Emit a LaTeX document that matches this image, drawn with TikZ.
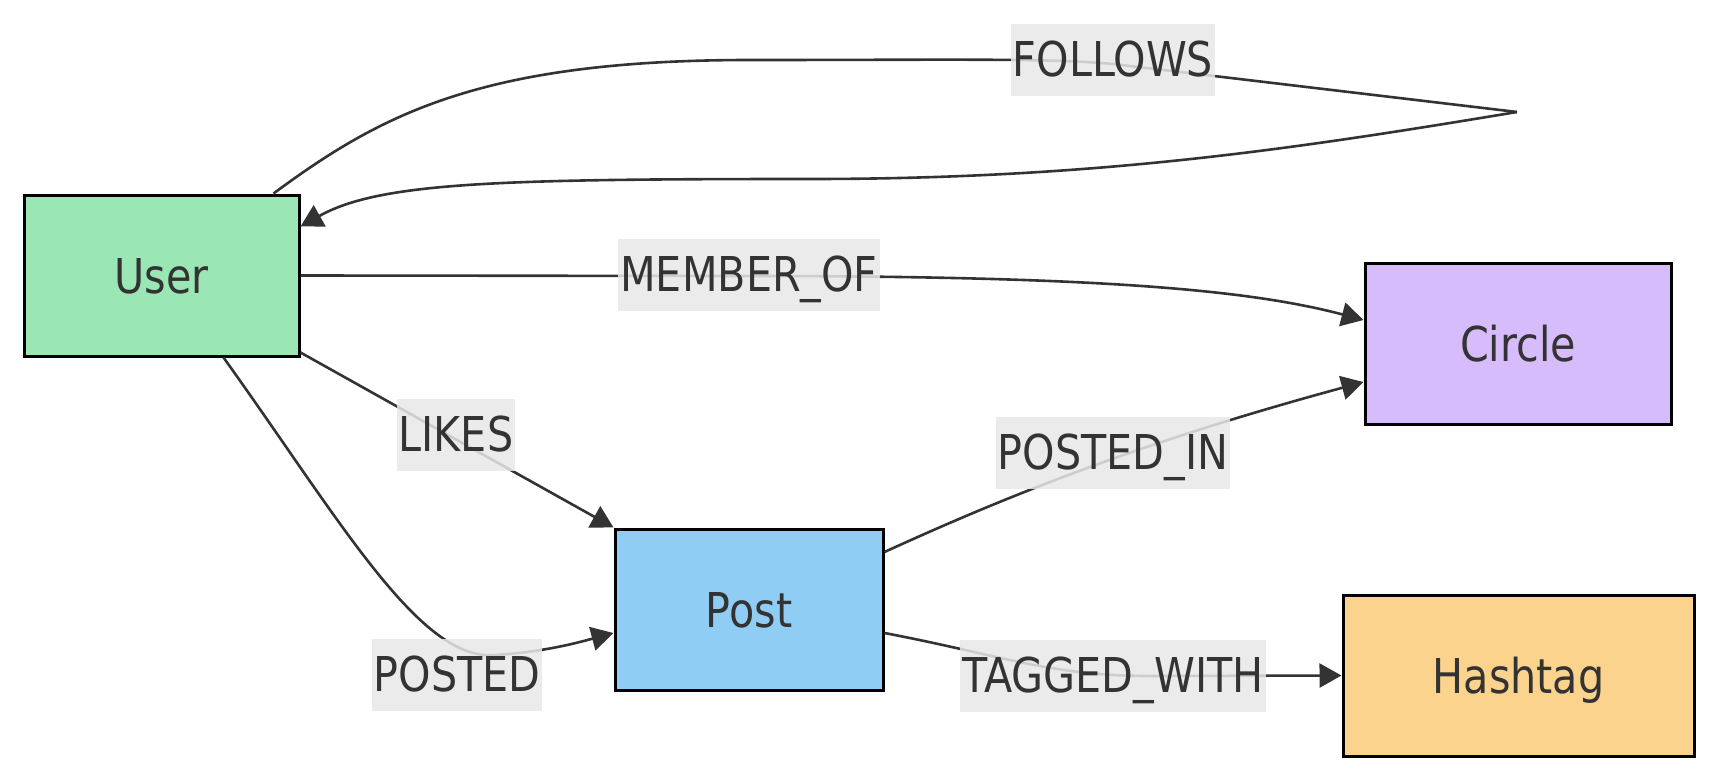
\documentclass[tikz,border=0pt]{standalone}
\usepackage{fontspec}
\setmainfont{DejaVu Sans}[FakeStretch=0.86]
\usepackage{tikz}
\usepackage[dvipsnames]{xcolor}
\usetikzlibrary{arrows.meta}

\definecolor{usergreen}{HTML}{9AE6B4}
\definecolor{postblue}{HTML}{90CDF4}
\definecolor{circlepurple}{HTML}{D6BCFA}
\definecolor{tagorange}{HTML}{FBD38D}
\definecolor{inkgray}{HTML}{333333}
\definecolor{labelgray}{HTML}{E8E8E8}

\begin{document}
\begin{tikzpicture}[x=0.5pt, y=-0.5pt,
    every node/.style={font=\fontsize{24}{28}\selectfont, text=inkgray},
    entity/.style={draw=black, line width=1.5pt, minimum height=80.5pt, inner sep=0pt, text height=17.5pt, text depth=0pt},
    rel/.style={fill=labelgray, fill opacity=0.85, text opacity=1, inner xsep=1pt, inner ysep=0pt, minimum height=36pt, text height=17.5pt, text depth=1.5pt},
    link/.style={draw=inkgray, line width=1.3pt, -{Triangle[length=11pt, width=12pt]}}]
        \useasboundingbox (0,0) rectangle (1718,781);

        % Define the nodes
        \node[entity, fill=usergreen, minimum width=137.5pt] (user) at (161.5,275.5) {User};
        \node[entity, fill=circlepurple, minimum width=153pt] (circle) at (1518,343.5) {Circle};
        \node[entity, fill=postblue, minimum width=134pt] (post) at (749,609.5) {Post};
        \node[entity, fill=tagorange, minimum width=175.5pt] (hashtag) at (1518.5,675.5) {Hashtag};
        \coordinate (loop) at (1517,112);

        % Edges
        \draw[line width=1.3pt, draw=inkgray] ([xshift=-13.5pt]user.north east)
            .. controls (380,115) and (480,60) .. (750,60)
            .. controls (950,60) and (1050,58) .. (1113,64) -- (loop);
        \draw[link] (loop) .. controls (1300,148) and (1100,179) .. (811,179)
            .. controls (500,179) and (380,182) .. ([yshift=-16.5pt]user.north east);
        \draw[link] (user.east) -- (749,276)
            .. controls (1100,276) and (1250,290) .. ([yshift=11.75pt]circle.west);
        \draw[link] ([yshift=2.5pt]user.south east) -- (post.north west);
        \draw[link] ([xshift=-38.5pt]user.south east)
            .. controls (340,520) and (420,662) .. (495,655)
            .. controls (545,652) and (580,642) .. ([yshift=-11.75pt]post.west);
        \draw[link] ([yshift=28.75pt]post.east)
            .. controls (1020,490) and (1150,440) .. ([yshift=-19.25pt]circle.west);
        \draw[link] ([yshift=-11.75pt]post.east)
            .. controls (1000,655) and (1050,676) .. (1150,676) -- (hashtag.west);

        % Edge labels
        \node[rel] (follows) at (1113,60) {FOLLOWS};
        \node[rel] (memberof) at (749,275) {MEMBER\_OF};
        \node[rel] (likes) at (456,435) {LIKES};
        \node[rel] (posted) at (457,675) {POSTED};
        \node[rel] (postedin) at (1113,453) {POSTED\_IN};
        \node[rel] (taggedwith) at (1113,676) {TAGGED\_WITH};

    \end{tikzpicture}
\end{document}
